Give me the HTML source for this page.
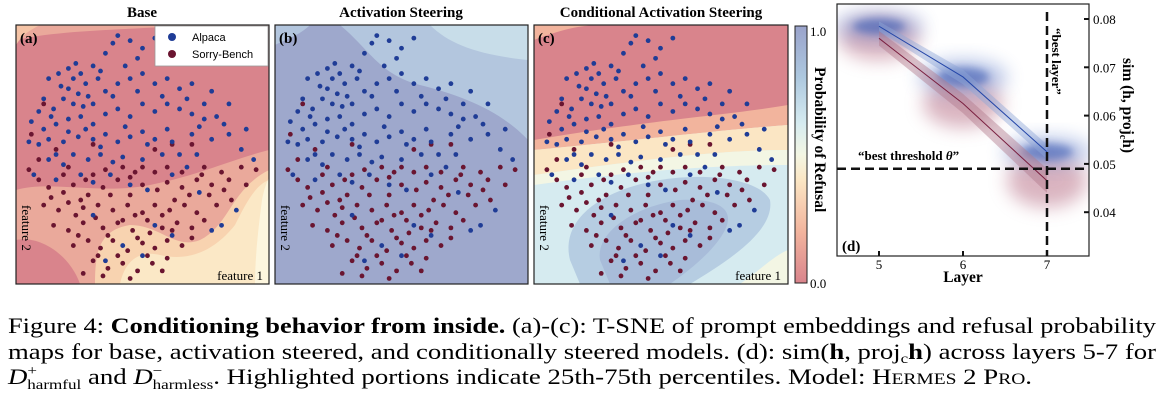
<!DOCTYPE html>
<html><head><meta charset="utf-8">
<style>
html,body{margin:0;padding:0;background:#fff;}
body{width:1164px;height:403px;overflow:hidden;font-family:"Liberation Serif",serif;}
svg text{font-family:"Liberation Serif",serif;}
</style></head>
<body>
<svg id="fig" width="1164" height="403" viewBox="0 0 1164 403" xmlns="http://www.w3.org/2000/svg">
<defs>
 <filter id="blur3" x="-50%" y="-50%" width="200%" height="200%"><feGaussianBlur stdDeviation="4"/></filter>
 <filter id="blur8" x="-50%" y="-50%" width="200%" height="200%"><feGaussianBlur stdDeviation="9"/></filter>
 <clipPath id="clipA"><rect x="16" y="25" width="253" height="259"/></clipPath>
 <clipPath id="clipB"><rect x="275" y="25" width="253" height="259"/></clipPath>
 <clipPath id="clipC"><rect x="534" y="25" width="254" height="259"/></clipPath>
 <clipPath id="clipD"><rect x="837" y="4" width="252" height="252"/></clipPath>
 <linearGradient id="cbar" x1="0" y1="1" x2="0" y2="0">
  <stop offset="0" stop-color="#d9848c"/><stop offset="0.2" stop-color="#f2b49d"/>
  <stop offset="0.4" stop-color="#fbe6c4"/><stop offset="0.5" stop-color="#f3f6e4"/>
  <stop offset="0.62" stop-color="#d6ebf0"/><stop offset="0.8" stop-color="#adc8df"/>
  <stop offset="1" stop-color="#9aa3cb"/>
 </linearGradient>
</defs>

<text x="142" y="17" text-anchor="middle" font-weight="bold" font-size="15">Base</text>
<text x="401" y="17" text-anchor="middle" font-weight="bold" font-size="15">Activation Steering</text>
<text x="661" y="17" text-anchor="middle" font-weight="bold" font-size="15">Conditional Activation Steering</text>

<g clip-path="url(#clipA)">
 <rect x="16" y="25" width="253" height="259" fill="#eaa99b"/>
 <path d="M16,40 C60,30 120,30 200,25 L269,25 L269,150 C230,160 200,175 150,185 C100,195 50,180 16,190 Z" fill="#d9848c"/>
 <path d="M95,284 C95,250 100,230 130,225 C160,225 175,250 200,240 C230,225 230,190 269,170 L269,284 Z" fill="#f8d3b0"/>
 <path d="M120,284 C125,260 140,250 160,255 C190,262 215,250 235,225 C245,205 255,185 269,180 L269,284 Z" fill="#fbe8c6"/>
 <path d="M255,284 C255,260 258,230 262,200 C265,185 268,180 269,178 L269,284 Z" fill="#fdf6de"/>
 <path d="M16,240 C40,235 70,255 80,284 L16,284 Z" fill="#d9848c"/>
 <path d="M16,25 L40,25 C30,30 22,35 16,45 Z" fill="#f5c4a6"/>
</g>
<g clip-path="url(#clipB)">
 <rect x="275" y="25" width="253" height="259" fill="#9ea8cc"/>
 <path d="M340,25 C370,50 380,75 420,85 C460,95 500,110 528,140 L528,25 Z" fill="#b3c6de"/>
 <path d="M430,25 C450,45 480,55 528,60 L528,25 Z" fill="#c8dde9"/>
 <path d="M275,25 L310,25 C300,35 285,40 275,45 Z" fill="#b3c6de"/>
</g>
<g clip-path="url(#clipC)">
 <rect x="534" y="25" width="254" height="259" fill="#d6ebf0"/>
 <path d="M534,25 L788,25 L788,125 C720,130 640,140 534,150 Z" fill="#f2b49d"/>
 <path d="M534,40 C560,30 580,25 600,25 L788,25 L788,105 C730,115 650,120 534,140 Z" fill="#d9848c"/>
 <path d="M534,150 C640,140 720,130 788,125 L788,150 C720,150 640,160 534,175 Z" fill="#fbe6c4"/>
 <path d="M534,175 C640,160 720,150 788,150 L788,165 C720,165 640,170 534,185 Z" fill="#f3f6e4"/>
 <path d="M570,260 C560,220 600,190 660,180 C710,172 760,180 770,200 C775,230 730,260 690,284 L580,284 Z" fill="#b6cde2"/>
 <path d="M600,260 C595,230 640,205 680,200 C720,198 735,210 725,230 C715,250 690,270 670,284 L610,284 Z" fill="#a8bcd9"/>
 <path d="M740,284 C760,270 775,255 788,250 L788,284 Z" fill="#f3f6e4"/>
</g>

<g id="scatterA"></g>
<g id="scatterB"></g>
<g id="scatterC"></g>

<rect x="16" y="25" width="253" height="259" fill="none" stroke="#222" stroke-width="1.2"/>
<rect x="275" y="25" width="253" height="259" fill="none" stroke="#222" stroke-width="1.2"/>
<rect x="534" y="25" width="254" height="259" fill="none" stroke="#222" stroke-width="1.2"/>
<text x="20" y="43" font-weight="bold" font-size="15">(a)</text>
<text x="279" y="43" font-weight="bold" font-size="15">(b)</text>
<text x="538" y="43" font-weight="bold" font-size="15">(c)</text>
<text x="263" y="280" text-anchor="end" font-size="13">feature 1</text>
<text x="781" y="280" text-anchor="end" font-size="13">feature 1</text>
<text transform="translate(22,205) rotate(90)" font-size="13">feature 2</text>
<text transform="translate(281,205) rotate(90)" font-size="13">feature 2</text>
<text transform="translate(540,205) rotate(90)" font-size="13">feature 2</text>

<g>
 <rect x="155" y="26" width="113" height="40" fill="#fff" stroke="#999" stroke-width="0.8"/>
 <circle cx="172" cy="37" r="4" fill="#1f3c96"/>
 <text x="192" y="41" font-size="11" style="font-family:'Liberation Sans',sans-serif">Alpaca</text>
 <circle cx="172" cy="54" r="4" fill="#6a1530"/>
 <text x="192" y="58" font-size="11" style="font-family:'Liberation Sans',sans-serif">Sorry-Bench</text>
</g>

<g>
 <rect x="795" y="26" width="12" height="257" fill="url(#cbar)" stroke="#222" stroke-width="1"/>
 <text x="810" y="36" font-size="13">1.0</text>
 <text x="810" y="288" font-size="13">0.0</text>
 <text transform="translate(815,67) rotate(90)" font-weight="bold" font-size="15.5">Probability of Refusal</text>
</g>

<g id="panelD">
 <g id="dClouds" clip-path="url(#clipD)"></g>
 <rect x="837" y="4" width="252" height="252" fill="none" stroke="#222" stroke-width="1.2"/>
 <g id="dAxes"></g>
 <text x="842" y="251" font-weight="bold" font-size="15">(d)</text>
 <text x="858" y="160" font-weight="bold" font-size="13">“best threshold <tspan font-style="italic">θ</tspan>”</text>
 <text transform="translate(1052,28) rotate(90)" font-weight="bold" font-size="13">“best layer”</text>
 <text x="963" y="282" text-anchor="middle" font-weight="bold" font-size="15.5">Layer</text>
 <text transform="translate(1123,58) rotate(90)" font-weight="bold" font-size="15.5">sim (h, proj<tspan font-size="10" dy="3">c</tspan><tspan dy="-3">h)</tspan></text>
</g>

<g font-size="22">
 <text x="8" y="333" textLength="1148" lengthAdjust="spacingAndGlyphs">Figure 4: <tspan font-weight="bold">Conditioning behavior from inside.</tspan> (a)-(c): T-SNE of prompt embeddings and refusal probability</text>
 <text x="8" y="359" textLength="1148" lengthAdjust="spacingAndGlyphs">maps for base, activation steered, and conditionally steered models. (d): sim(<tspan font-weight="bold">h</tspan>, proj<tspan font-size="14" dy="4">c</tspan><tspan dy="-4" font-weight="bold">h</tspan>) across layers 5-7 for</text>
 <text x="8" y="384" textLength="1024" lengthAdjust="spacingAndGlyphs"><tspan font-style="italic">D</tspan><tspan font-size="14" dy="-9">+</tspan><tspan font-size="14" dx="-8" dy="14">harmful</tspan><tspan dy="-5"> and </tspan><tspan font-style="italic">D</tspan><tspan font-size="14" dy="-9">−</tspan><tspan font-size="14" dx="-8" dy="14">harmless</tspan><tspan dy="-5">. Highlighted portions indicate 25th-75th percentiles. Model: H</tspan><tspan font-size="16">ERMES</tspan> 2 P<tspan font-size="16">RO</tspan>.</text>
</g>
</svg>

<script>
const alpacaPoints = [
[0.4,0.03],[0.38,0.06],[0.45,0.05],[0.5,0.08],[0.55,0.04],[0.48,0.12],[0.43,0.15],[0.35,0.1],
[0.12,0.2],[0.16,0.18],[0.2,0.16],[0.22,0.2],[0.25,0.18],[0.27,0.22],[0.3,0.15],[0.32,0.2],[0.2,0.24],[0.24,0.26],[0.28,0.27],[0.18,0.28],
[0.1,0.28],[0.14,0.32],[0.22,0.3],[0.3,0.3],[0.35,0.25],[0.4,0.22],[0.45,0.2],[0.5,0.18],[0.55,0.22],[0.6,0.2],[0.65,0.24],[0.7,0.22],[0.78,0.25],[0.85,0.3],
[0.05,0.37],[0.1,0.4],[0.15,0.38],[0.2,0.36],[0.25,0.35],[0.3,0.38],[0.35,0.34],[0.4,0.32],[0.45,0.35],[0.5,0.3],[0.55,0.33],[0.6,0.3],[0.65,0.32],[0.7,0.34],[0.75,0.36],[0.8,0.35],
[0.08,0.46],[0.12,0.44],[0.18,0.45],[0.24,0.43],[0.3,0.44],[0.35,0.42],[0.4,0.45],[0.45,0.43],[0.5,0.41],[0.55,0.44],[0.6,0.4],[0.7,0.42],[0.78,0.44],[0.85,0.42],
[0.12,0.52],[0.18,0.54],[0.22,0.5],[0.28,0.52],[0.33,0.5],[0.38,0.53],[0.42,0.51],[0.5,0.52],[0.58,0.5],[0.65,0.5],[0.72,0.5],[0.9,0.48],[0.95,0.52],
[0.06,0.58],[0.15,0.6],[0.25,0.58],[0.3,0.61],[0.45,0.62],[0.62,0.58],[0.68,0.55],[0.52,0.64],
[0.3,0.74],[0.55,0.78],[0.78,0.8],[0.82,0.78],[0.62,0.82],[0.42,0.86],[0.5,0.9],[0.35,0.92],[0.88,0.72],[0.73,0.65],
[0.17,0.23],[0.23,0.14],[0.33,0.17],[0.38,0.27],[0.26,0.31],[0.13,0.35],[0.08,0.33],[0.48,0.25],[0.58,0.27],[0.68,0.28],[0.75,0.3],[0.83,0.38],[0.92,0.4],
[0.27,0.4],[0.33,0.47],[0.43,0.39],[0.52,0.46],[0.62,0.45],[0.73,0.39],[0.15,0.5],[0.04,0.45],[0.37,0.58],[0.2,0.41]
];
const sorryPoints = [
[0.08,0.52],[0.15,0.48],[0.2,0.55],[0.04,0.56],[0.35,0.56],[0.42,0.55],[0.5,0.55],[0.55,0.57],[0.6,0.55],[0.66,0.57],[0.75,0.55],[0.82,0.57],[0.9,0.55],[0.96,0.56],
[0.12,0.63],[0.18,0.65],[0.22,0.62],[0.28,0.66],[0.34,0.63],[0.4,0.6],[0.45,0.66],[0.5,0.62],[0.56,0.64],[0.6,0.61],[0.66,0.63],[0.72,0.6],[0.78,0.62],[0.85,0.6],
[0.1,0.7],[0.16,0.72],[0.2,0.69],[0.26,0.71],[0.32,0.7],[0.38,0.72],[0.44,0.7],[0.5,0.73],[0.55,0.7],[0.61,0.72],[0.67,0.7],[0.72,0.73],[0.8,0.7],[0.86,0.68],
[0.14,0.78],[0.2,0.8],[0.26,0.77],[0.34,0.79],[0.4,0.77],[0.46,0.8],[0.52,0.76],[0.58,0.79],[0.64,0.77],[0.7,0.79],[0.75,0.76],
[0.22,0.86],[0.28,0.84],[0.33,0.87],[0.38,0.84],[0.44,0.88],[0.5,0.85],[0.55,0.87],[0.6,0.84],[0.66,0.86],[0.7,0.83],
[0.3,0.92],[0.36,0.95],[0.42,0.93],[0.48,0.96],[0.54,0.93],[0.6,0.91],[0.26,0.97],[0.45,0.99],
[0.05,0.42],[0.3,0.46],[0.55,0.48],[0.62,0.46],[0.7,0.46],[0.1,0.3],[0.47,0.57],[0.3,0.58],[0.25,0.68],[0.42,0.76],[0.63,0.68],[0.18,0.58],[0.37,0.66],[0.53,0.81],
[0.13,0.67],[0.23,0.74],[0.31,0.75],[0.47,0.74],[0.58,0.74],[0.69,0.66],[0.77,0.66],[0.83,0.64],[0.24,0.82],[0.36,0.82],[0.48,0.83],[0.62,0.8],
[0.32,0.9],[0.4,0.9],[0.52,0.9],[0.58,0.96],[0.34,0.98],[0.08,0.6],[0.27,0.6],[0.45,0.59],[0.74,0.58],[0.92,0.62]
];

const panels = [{id:'scatterA',x:16},{id:'scatterB',x:275},{id:'scatterC',x:534}];
const NS = 'http://www.w3.org/2000/svg';
const PW = 253, PH = 259, PY = 25;
function px(u, x0){ return x0 + 3 + u*(PW-6); }
function py(v){ return PY + 3 + v*(PH-6); }
panels.forEach(p => {
  const g = document.getElementById(p.id);
  sorryPoints.forEach(pt => {
    const c = document.createElementNS(NS,'circle');
    
    
    c.setAttribute('cx', px(pt[0],p.x)); c.setAttribute('cy', py(pt[1])); c.setAttribute('r', 2.4);
    c.setAttribute('fill', '#6a1530');
    g.appendChild(c);
  });
  alpacaPoints.forEach(pt => {
    const c = document.createElementNS(NS,'circle');
    
    
    c.setAttribute('cx', px(pt[0],p.x)); c.setAttribute('cy', py(pt[1])); c.setAttribute('r', 2.4);
    c.setAttribute('fill', '#1f3c96');
    g.appendChild(c);
  });
});

const layers = [5, 6, 7];
const harmlessMedian = [0.0785, 0.068, 0.0525];
const harmlessQ1 = [0.0775, 0.0665, 0.051];
const harmlessQ3 = [0.0795, 0.0695, 0.054];
const harmfulMedian = [0.076, 0.0625, 0.0465];
const harmfulQ1 = [0.0745, 0.0605, 0.044];
const harmfulQ3 = [0.0775, 0.0645, 0.049];
const harmlessSpread = [0.0028, 0.0035, 0.003];
const harmfulSpread = [0.0045, 0.005, 0.0055];
const yTicks = [0.04, 0.05, 0.06, 0.07, 0.08];
const xTicks = [5, 6, 7];
const bestThreshold = 0.049;
const bestLayer = 7;

function X(l){ return 879 + (l-5)*84; }
function Y(v){ return 19 + (0.08 - v)*4830; }

const clouds = document.getElementById('dClouds');
function cloud(l, m, s, color, name, rx, op){
  const e = document.createElementNS(NS,'ellipse');
  
  
  e.setAttribute('cx', X(l)); e.setAttribute('cy', Y(m));
  e.setAttribute('rx', rx); e.setAttribute('ry', s*4830);
  e.setAttribute('fill', color); e.setAttribute('opacity', op);
  e.setAttribute('filter', 'url(#blur8)');
  clouds.appendChild(e);
}
layers.forEach((l,i) => cloud(l, harmfulMedian[i], harmfulSpread[i], '#b56a82', 'harmful-cloud', 40, 0.5));
layers.forEach((l,i) => cloud(l, harmlessMedian[i], harmlessSpread[i], '#5a78c8', 'harmless-cloud', 44, 0.45));
layers.forEach((l,i) => {
  const e = document.createElementNS(NS,'ellipse');
  
  
  e.setAttribute('cx', X(l)); e.setAttribute('cy', Y(harmlessMedian[i]));
  e.setAttribute('rx', 26); e.setAttribute('ry', harmlessSpread[i]*2800);
  e.setAttribute('fill', '#2f52b0'); e.setAttribute('opacity', 0.5);
  e.setAttribute('filter', 'url(#blur3)');
  clouds.appendChild(e);
});
function band(q1, q3, med, fill, stroke, name){
  let d = layers.map((l,i)=>(i?'L':'M')+X(l)+','+Y(q3[i])).join(' ');
  d += ' ' + layers.slice().reverse().map((l,j)=>'L'+X(l)+','+Y(q1[layers.length-1-j])).join(' ') + ' Z';
  const p = document.createElementNS(NS,'path');
  
  
  p.setAttribute('d', d); p.setAttribute('fill', fill); p.setAttribute('opacity', 0.45);
  clouds.appendChild(p);
  const ln = document.createElementNS(NS,'polyline');
  
  
  ln.setAttribute('points', layers.map((l,i)=>X(l)+','+Y(med[i])).join(' '));
  ln.setAttribute('fill', 'none'); ln.setAttribute('stroke', stroke); ln.setAttribute('stroke-width', 1);
  clouds.appendChild(ln);
}
band(harmfulQ1, harmfulQ3, harmfulMedian, '#b27a8c', '#7a2040', 'harmful');
band(harmlessQ1, harmlessQ3, harmlessMedian, '#8fa6d8', '#2446a8', 'harmless');

const axes = document.getElementById('dAxes');
const th = document.createElementNS(NS,'line');


th.setAttribute('x1', 837); th.setAttribute('x2', 1089); th.setAttribute('y1', Y(bestThreshold)); th.setAttribute('y2', Y(bestThreshold));
th.setAttribute('stroke', '#111'); th.setAttribute('stroke-width', 2.5); th.setAttribute('stroke-dasharray', '9,5');
axes.appendChild(th);
const bl = document.createElementNS(NS,'line');


bl.setAttribute('x1', X(bestLayer)); bl.setAttribute('x2', X(bestLayer)); bl.setAttribute('y1', 12); bl.setAttribute('y2', 256);
bl.setAttribute('stroke', '#111'); bl.setAttribute('stroke-width', 2.5); bl.setAttribute('stroke-dasharray', '9,5');
axes.appendChild(bl);
yTicks.forEach(v => {
  const t = document.createElementNS(NS,'line');
  
  
  t.setAttribute('x1', 1089); t.setAttribute('x2', 1084); t.setAttribute('y1', Y(v)); t.setAttribute('y2', Y(v));
  t.setAttribute('stroke', '#111'); t.setAttribute('stroke-width', 2);
  axes.appendChild(t);
  const tx = document.createElementNS(NS,'text');
  
  
  tx.setAttribute('x', 1093); tx.setAttribute('y', Y(v)+5); tx.setAttribute('font-size', 13);
  tx.textContent = v.toFixed(2);
  axes.appendChild(tx);
});
xTicks.forEach(l => {
  const t = document.createElementNS(NS,'line');
  
  
  t.setAttribute('x1', X(l)); t.setAttribute('x2', X(l)); t.setAttribute('y1', 256); t.setAttribute('y2', 251);
  t.setAttribute('stroke', '#111'); t.setAttribute('stroke-width', 2);
  axes.appendChild(t);
  const tx = document.createElementNS(NS,'text');
  
  
  tx.setAttribute('x', X(l)); tx.setAttribute('y', 269); tx.setAttribute('font-size', 13); tx.setAttribute('text-anchor', 'middle');
  tx.textContent = l;
  axes.appendChild(tx);
});
</script>
</body></html>
